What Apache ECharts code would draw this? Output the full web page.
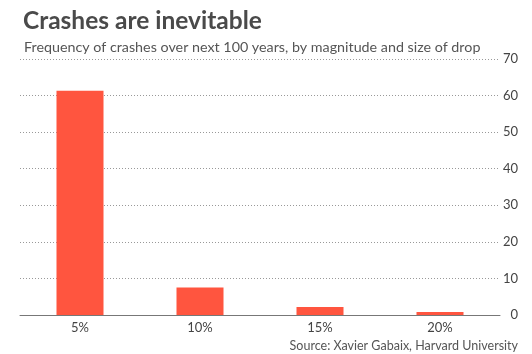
<!DOCTYPE html>
<html>
<head>
<meta charset="utf-8">
<script src="https://cdn.jsdelivr.net/npm/echarts@6/dist/echarts.min.js"></script>
<style>
  html, body { margin: 0; padding: 0; background: #fff; }
  #chart { width: 532px; height: 354px; }
</style>
</head>
<body>
<div id="chart"></div>
<script>
  // drop size categories and crash counts over the next 100 years
  var categories = ['5%', '10%', '15%', '20%'];
  var crashCounts = [61.3, 7.5, 2.2, 0.8];
  var yTicks = [0, 10, 20, 30, 40, 50, 60, 70];

  var chart = echarts.init(document.getElementById('chart'));

  var option = {
    backgroundColor: '#fff',
    textStyle: { fontFamily: 'Lato' },
    title: [
      {
        text: 'Crashes are inevitable',
        left: 18,
        top: 4,
        textStyle: { fontFamily: 'Lato', fontWeight: 'bold', fontSize: 24.5, color: '#4a4a4a' }
      },
      {
        text: 'Frequency of crashes over next 100 years, by magnitude and size of drop',
        left: 19,
        top: 35,
        textStyle: { fontFamily: 'Lato', fontWeight: 'normal', fontSize: 14.3, color: '#555' }
      },
      {
        text: 'Source: Xavier Gabaix, Harvard University',
        right: 9,
        top: 334,
        textStyle: { fontFamily: 'Lato', fontWeight: 'normal', fontSize: 12.5, color: '#555' }
      }
    ],
    grid: { left: 20, right: 32, top: 59, bottom: 39 },
    xAxis: {
      type: 'category',
      data: categories,
      axisLine: { lineStyle: { color: '#777', width: 1 } },
      axisTick: { show: false },
      axisLabel: { color: '#444', fontSize: 13, margin: 6 }
    },
    yAxis: {
      type: 'value',
      position: 'right',
      min: yTicks[0],
      max: yTicks[yTicks.length - 1],
      interval: 10,
      axisLine: { show: false },
      axisTick: { show: false },
      axisLabel: { color: '#444', fontSize: 13, align: 'right', margin: 18 },
      splitLine: { lineStyle: { color: '#999', type: [1, 2], width: 1 } }
    },
    series: [
      {
        type: 'bar',
        data: crashCounts,
        barWidth: 47,
        itemStyle: { color: '#ff553f' }
      }
    ]
  };

  chart.setOption(option);
</script>
</body>
</html>
